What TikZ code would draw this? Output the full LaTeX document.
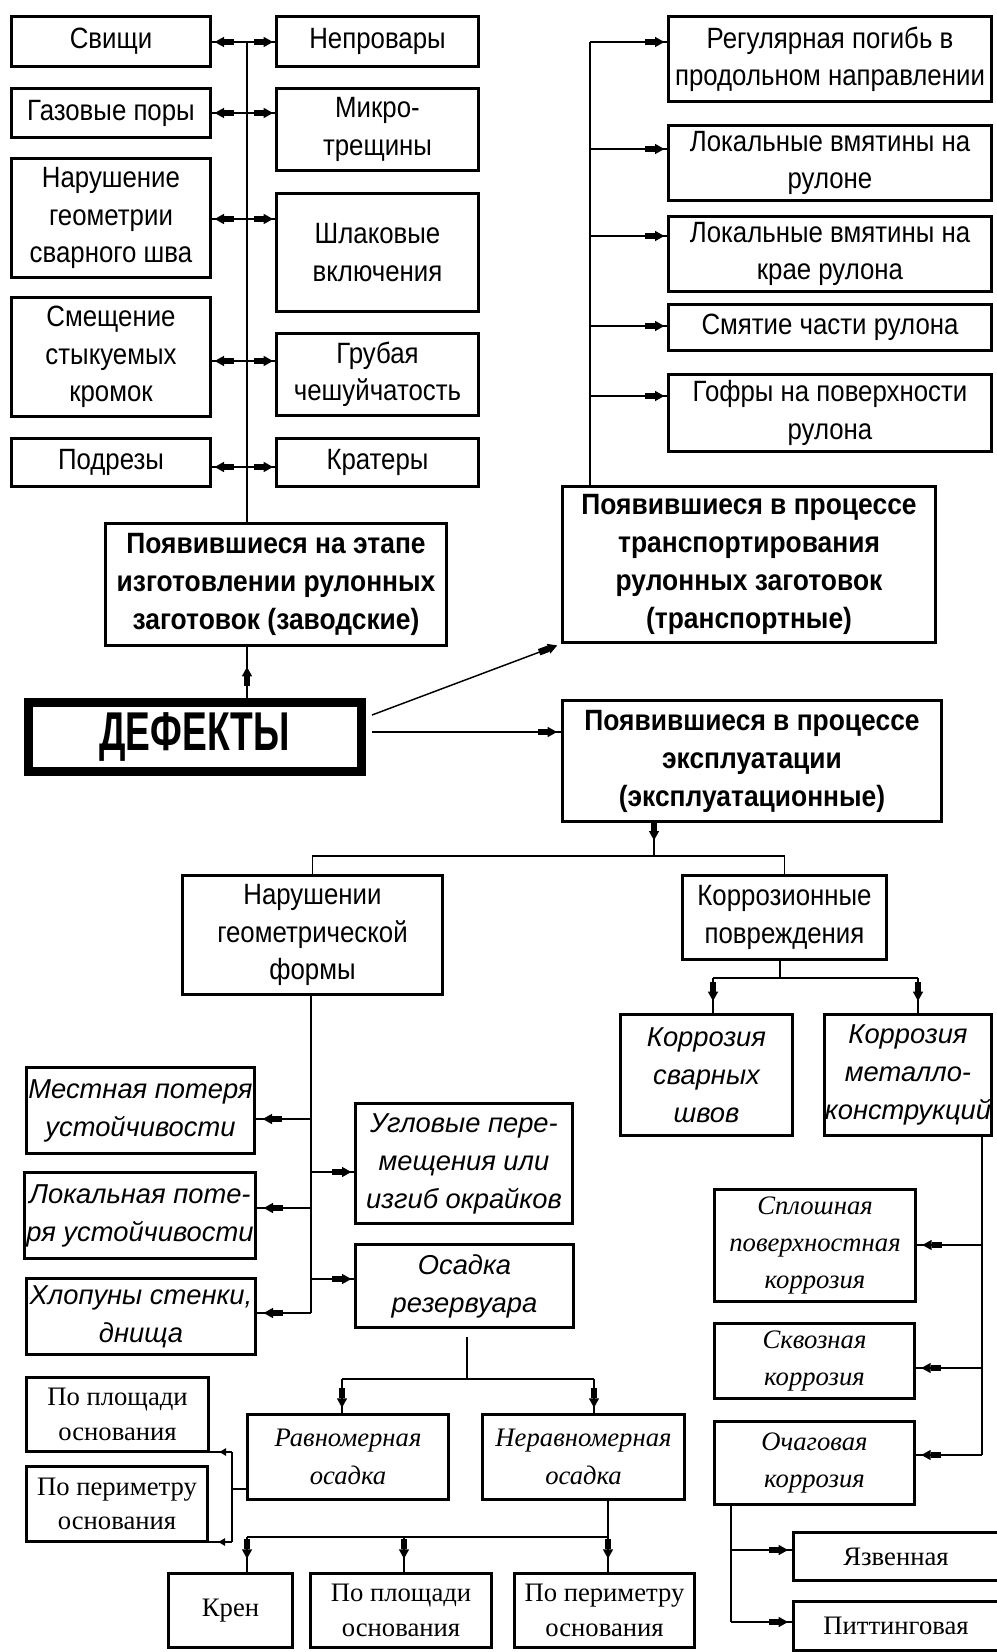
\documentclass[tikz,border=0pt]{standalone}
\usepackage{fontspec}
\usetikzlibrary{arrows.meta,decorations.markings}
\newfontfamily\rfont{Liberation Sans}[FakeStretch=0.88]
\newfontfamily\bfont{Liberation Sans}[FakeStretch=0.9]
\newfontfamily\dfont{Liberation Sans}[FakeStretch=0.68]
\newfontfamily\ifont{Liberation Sans}
\newfontfamily\sfont{Liberation Serif}
\tikzset{
  myt/.tip={Rectangle[length=7.5pt,width=5pt,sep=0pt] Triangle[length=7pt,width=7.5pt]},
  mys/.tip={Triangle[length=5pt,width=5.5pt]}
}
\newcommand{\bxn}[7]{\node[#1,minimum width={(#5-#3)*0.75pt-2.2pt},minimum height={(#6-#4)*0.75pt-2.2pt}] (#2) at ({(#3+#5)/2},{(#4+#6)/2}) {#7};}
\begin{document}
\begin{tikzpicture}[x=0.75pt,y=-0.75pt,
  conn/.style={line width=1.1pt},
  bx/.style={draw,line width=2.2pt,align=center,inner sep=0pt},
  rg/.style={bx,font=\rfont\fontsize{22}{28}\selectfont},
  bd/.style={bx,font=\bfont\bfseries\fontsize{22}{28.5}\selectfont},
  itb/.style={bx,font=\ifont\itshape\fontsize{20.5}{28.5}\selectfont},
  sr/.style={bx,font=\sfont\fontsize{20}{26}\selectfont},
  sri/.style={bx,font=\sfont\itshape\fontsize{20}{28}\selectfont},
  tipe/.style={postaction={decorate,decoration={markings,mark=at position #1 with {\arrow{myt}}}}},
  tipe/.default=-2pt,
  tips/.style={postaction={decorate,decoration={markings,mark=at position #1 with {\arrow{mys}}}}}]
\useasboundingbox (0,0) rectangle (996,1652);

% ---- nodes
\bxn{rg}{svi}{10}{15}{212}{68}{Свищи}
\bxn{rg}{nep}{275}{15}{480}{68}{Непровары}
\bxn{rg}{gaz}{10}{87}{212}{139}{Газовые поры}
\bxn{rg}{mik}{275}{87}{480}{172}{Микро-\\трещины}
\bxn{rg}{nar}{10}{157}{212}{279}{Нарушение\\геометрии\\сварного шва}
\bxn{rg}{shl}{275}{192}{480}{313}{Шлаковые\\включения}
\bxn{rg}{sme}{10}{296}{212}{418}{Смещение\\стыкуемых\\кромок}
\bxn{rg}{gru}{275}{332}{480}{417}{Грубая\\чешуйчатость}
\bxn{rg}{pod}{10}{437}{212}{488}{Подрезы}
\bxn{rg}{kra}{275}{437}{480}{488}{Кратеры}

\bxn{rg}{reg}{667}{15}{993}{103}{Регулярная погибь в\\продольном направлении}
\bxn{rg}{lvr}{667}{124}{993}{202}{Локальные вмятины на\\рулоне}
\bxn{rg}{lvk}{667}{215}{993}{293}{Локальные вмятины на\\крае рулона}
\bxn{rg}{smy}{667}{303}{993}{352}{Смятие части рулона}
\bxn{rg}{gof}{667}{373}{993}{453}{Гофры на поверхности\\рулона}

\bxn{bd}{zav}{104}{522}{448}{647}{Появившиеся на этапе\\изготовлении рулонных\\заготовок (заводские)}
\bxn{bd}{tra}{561}{485}{937}{644}{Появившиеся в процессе\\транспортирования\\рулонных заготовок\\(транспортные)}
\bxn{bd}{exp}{561}{699}{943}{823}{Появившиеся в процессе\\эксплуатации\\(эксплуатационные)}
\node[draw,line width=6.75pt,inner sep=0pt,minimum width={333*0.75pt},minimum height={69*0.75pt},
  font=\dfont\bfseries\fontsize{41}{41}\selectfont] (def) at (194.5,736.5) {ДЕФЕКТЫ};

\bxn{rg}{ngf}{181}{874}{444}{996}{Нарушении\\геометрической\\формы}
\bxn{rg}{kor}{681}{874}{888}{961}{Коррозионные\\повреждения}
\bxn{itb}{ksv}{619}{1013}{794}{1137}{Коррозия\\сварных\\швов}
\bxn{itb}{kmk}{823}{1013}{993}{1137}{Коррозия\\металло-\\конструкций}
\bxn{itb}{mes}{25}{1066}{256}{1155}{Местная потеря\\устойчивости}
\bxn{itb}{ugl}{354}{1102}{574}{1225}{Угловые пере-\\мещения или\\изгиб окрайков}
\bxn{itb}{lok}{23}{1171}{257}{1260}{Локальная поте-\\ря устойчивости}
\bxn{itb}{osa}{354}{1243}{575}{1329}{Осадка\\резервуара}
\bxn{itb}{hlo}{25}{1277}{257}{1356}{Хлопуны стенки,\\днища}
\bxn{sri}{spl}{713}{1188}{917}{1303}{Сплошная\\поверхностная\\коррозия}
\bxn{sri}{skv}{713}{1322}{916}{1400}{Сквозная\\коррозия}
\bxn{sri}{och}{713}{1420}{916}{1506}{Очаговая\\коррозия}
\bxn{sr}{yaz}{792}{1531}{1000}{1582}{Язвенная}
\bxn{sr}{pit}{792}{1600}{1000}{1652}{Питтинговая}
\bxn{sri}{rav}{246}{1413}{450}{1501}{Равномерная\\осадка}
\bxn{sri}{ner}{481}{1413}{686}{1501}{Неравномерная\\осадка}
\bxn{sr}{ppl}{25}{1376}{210}{1453}{По площади\\основания}
\bxn{sr}{ppr}{25}{1465}{209}{1543}{По периметру\\основания}
\bxn{sr}{kre}{167}{1572}{294}{1649}{Крен}
\bxn{sr}{pp2}{309}{1572}{493}{1649}{По площади\\основания}
\bxn{sr}{pr2}{513}{1572}{696}{1649}{По периметру\\основания}

% ---- connectors: top left
\foreach \nn/\yy/\lb/\rb in {1/42/svi/nep,2/113/gaz/mik,3/219/nar/shl,4/361/sme/gru,5/467/pod/kra}{
  \coordinate (t\nn) at (247,\yy);
  \draw[conn,tipe=-2pt] (t\nn) -- (\lb.east |- t\nn);
  \draw[conn,tipe=-1.5pt] (t\nn) -- (\rb.west |- t\nn);
}
\draw[conn] (t1) -- (zav.north -| t1);

% top right
\foreach \nn/\yy/\bb in {1/42/reg,2/149/lvr,3/236/lvk,4/326/smy,5/396/gof}{
  \coordinate (r\nn) at (590,\yy);
  \draw[conn,tipe=-2pt] (r\nn) -- (\bb.west |- r\nn);
}
\draw[conn] (r1) -- (tra.north -| r1);

% defects
\coordinate (d1) at (372,715);
\coordinate (d2) at (372,732);
\draw[conn,tipe=-15pt] (def.north -| t1) -- (zav.south -| t1);
\draw[conn,-{myt},shorten >=3pt] (d1) -- (tra.south west);
\draw[conn,tipe=-3pt] (d2) -- (exp.west |- d2);

% exploitation
\coordinate (e1) at (654,856);
\draw[conn,tipe=13pt] (exp.south -| e1) -- (e1);
\draw[conn] (ngf.north) |- (e1) -| (kor.north);

% geometry branch
\foreach \nn/\yy/\bb/\ss/\pp in {1/1119/mes/east/-5pt,2/1172/ugl/west/-2pt,3/1208/lok/east/-5pt,4/1279/osa/west/-2pt,5/1313/hlo/east/-5pt}{
  \coordinate (n\nn) at (311,\yy);
  \draw[conn,tipe=\pp] (n\nn) -- (\bb.\ss |- n\nn);
}
\draw[conn] (ngf.south -| n1) -- (n5);

% corrosion branch
\coordinate (k0) at (780,978);
\coordinate (k1) at (713,978);
\coordinate (k2) at (918,978);
\draw[conn] (kor.south -| k0) -- (k0);
\draw[conn] (k1) -- (k2);
\draw[conn,tipe=-9pt] (k1) -- (ksv.north -| k1);
\draw[conn,tipe=-9pt] (k2) -- (kmk.north -| k2);

\foreach \nn/\yy/\bb in {1/1245/spl,2/1368/skv,3/1455/och}{
  \coordinate (m\nn) at (982,\yy);
  \draw[conn,tipe=-4pt] (m\nn) -- (\bb.east |- m\nn);
}
\draw[conn] (kmk.south -| m1) -- (m3);

\coordinate (o1) at (731,1550);
\coordinate (o2) at (731,1622);
\draw[conn] (och.south -| o1) -- (o2);
\draw[conn,tipe=-3pt] (o1) -- (yaz.west |- o1);
\draw[conn,tipe=-3pt] (o2) -- (pit.west |- o2);

% settlement
\coordinate (s0) at (467,1379);
\coordinate (s1) at (342,1379);
\coordinate (s2) at (594,1379);
\draw[conn,shorten <=6pt] (osa.south -| s0) -- (s0);
\draw[conn] (s1) -- (s2);
\draw[conn,tipe=-4pt] (s1) -- (rav.north -| s1);
\draw[conn,tipe=-4pt] (s2) -- (ner.north -| s2);

\coordinate (v0) at (232,1489);
\coordinate (v1) at (232,1452);
\coordinate (v2) at (232,1542);
\draw[conn] (rav.west |- v0) -- (v0);
\draw[conn] (v1) -- (v2);
\draw[conn,tips=-7pt] (v1) -- (ppl.east |- v1);
\draw[conn,tips=-7pt] (v2) -- (ppr.east |- v2);

\coordinate (w0) at (608,1537);
\coordinate (w1) at (247,1537);
\coordinate (w2) at (404,1537);
\draw[conn] (ner.south -| w0) -- (w0) -- (w1);
\draw[conn,tipe=-10pt] (w1) -- (kre.north -| w1);
\draw[conn,tipe=-10pt] (w2) -- (pp2.north -| w2);
\draw[conn,tipe=-10pt] (w0) -- (pr2.north -| w0);
\end{tikzpicture}
\end{document}
